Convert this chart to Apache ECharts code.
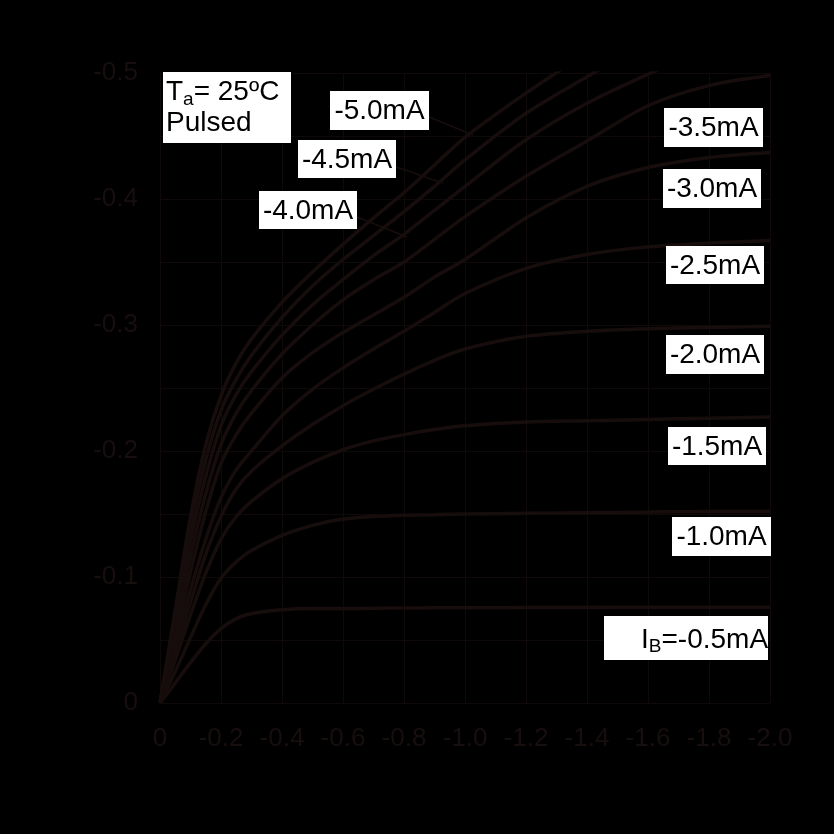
<!DOCTYPE html>
<html>
<head>
<meta charset="utf-8">
<script src="https://cdn.jsdelivr.net/npm/echarts@6/dist/echarts.min.js"></script>
<style>html,body{margin:0;padding:0;background:#000;}#c{width:834px;height:834px;}</style>
</head>
<body>
<div id="c"></div>
<script>
// Collector-emitter voltage (V)
const vce = [0, -0.05, -0.1, -0.15, -0.2, -0.25, -0.3, -0.4, -0.5, -0.6, -0.7, -0.8, -0.9, -1.0, -1.2, -1.4, -1.6, -1.8, -2.0];
// Collector current (A) for each base current
const ib05 = [0, -0.016, -0.032, -0.047, -0.059, -0.067, -0.071, -0.074, -0.075, -0.075, -0.0752, -0.0754, -0.0755, -0.0755, -0.0757, -0.0758, -0.076, -0.076, -0.076];
const ib10 = [0, -0.025, -0.052, -0.078, -0.099, -0.112, -0.121, -0.133, -0.141, -0.146, -0.148, -0.149, -0.1495, -0.150, -0.1505, -0.151, -0.1515, -0.152, -0.152];
const ib15 = [0, -0.034, -0.070, -0.103, -0.130, -0.148, -0.160, -0.178, -0.191, -0.201, -0.208, -0.213, -0.217, -0.220, -0.223, -0.224, -0.225, -0.226, -0.227];
const ib20 = [0, -0.040, -0.080, -0.118, -0.148, -0.170, -0.184, -0.204, -0.221, -0.236, -0.249, -0.261, -0.272, -0.281, -0.291, -0.295, -0.297, -0.298, -0.299];
const ib25 = [0, -0.045, -0.090, -0.130, -0.163, -0.185, -0.200, -0.228, -0.249, -0.266, -0.281, -0.295, -0.310, -0.325, -0.345, -0.356, -0.362, -0.365, -0.367];
const ib30 = [0, -0.052, -0.104, -0.152, -0.190, -0.213, -0.230, -0.258, -0.278, -0.294, -0.308, -0.322, -0.338, -0.352, -0.385, -0.410, -0.425, -0.433, -0.437];
const ib35 = [0, -0.058, -0.116, -0.166, -0.205, -0.230, -0.248, -0.277, -0.300, -0.320, -0.336, -0.350, -0.368, -0.386, -0.418, -0.446, -0.474, -0.490, -0.498];
const ib40 = [0, -0.064, -0.128, -0.180, -0.220, -0.245, -0.263, -0.292, -0.316, -0.336, -0.355, -0.372, -0.391, -0.410, -0.447, -0.476, -0.499, -0.520];
const ib45 = [0, -0.069, -0.138, -0.193, -0.232, -0.257, -0.276, -0.306, -0.331, -0.352, -0.371, -0.390, -0.410, -0.431, -0.468, -0.497, -0.525];
const ib50 = [0, -0.074, -0.148, -0.205, -0.244, -0.270, -0.289, -0.318, -0.342, -0.364, -0.385, -0.405, -0.427, -0.449, -0.484, -0.516];
const seriesNames = ['-0.5mA', '-1.0mA', '-1.5mA', '-2.0mA', '-2.5mA', '-3.0mA', '-3.5mA', '-4.0mA', '-4.5mA', '-5.0mA'];
const seriesVals = [ib05, ib10, ib15, ib20, ib25, ib30, ib35, ib40, ib45, ib50];
const xTicks = [0, -0.2, -0.4, -0.6, -0.8, -1.0, -1.2, -1.4, -1.6, -1.8, -2.0];
const yTicks = [0, -0.1, -0.2, -0.3, -0.4, -0.5];

const curveColor = '#170d0d';
const gridColor = '#100909';
const labelColor = '#170e0e';
const FONT = '"Liberation Sans", Arial, sans-serif';

const chart = echarts.init(document.getElementById('c'), null, {renderer: 'canvas'});

const series = seriesVals.map((vals, i) => ({
  name: seriesNames[i],
  type: 'line',
  showSymbol: false,
  smooth: 0.3,
  clip: true,
  lineStyle: {color: curveColor, width: 3.5},
  data: vals.map((v, k) => [vce[k], v]),
  silent: true
}));

// boxes: [x, y, w, h, text]
const boxes = [
  [330, 91, 99, 39, '-5.0mA'],
  [298, 140, 98, 38, '-4.5mA'],
  [259, 191, 98, 38, '-4.0mA'],
  [664, 108, 99, 39, '-3.5mA'],
  [663, 169, 98, 39, '-3.0mA'],
  [666, 246, 98, 38, '-2.5mA'],
  [666, 335, 98, 39, '-2.0mA'],
  [668, 427, 98, 38, '-1.5mA'],
  [672, 517, 99, 39, '-1.0mA']
];
const graphics = [];
// leader lines
const leaders = [[429, 117, 473, 135], [396, 167, 443, 183], [357, 217, 407, 237]];
leaders.forEach(l => graphics.push({type: 'line', shape: {x1: l[0], y1: l[1], x2: l[2], y2: l[3]}, style: {stroke: curveColor, lineWidth: 1.5}, z: 5}));
boxes.forEach(b => {
  graphics.push({type: 'rect', shape: {x: b[0], y: b[1], width: b[2], height: b[3]}, style: {fill: '#fff'}, z: 10});
  graphics.push({type: 'text', x: b[0] + b[2] / 2, y: b[1] + b[3] / 2 + 1, style: {text: b[4], fill: '#000', font: '28px ' + FONT, textAlign: 'center', textVerticalAlign: 'middle'}, z: 11});
});
// IB box
graphics.push({type: 'rect', shape: {x: 604, y: 616, width: 164, height: 44}, style: {fill: '#fff'}, z: 10});
graphics.push({type: 'text', x: 641, y: 626, style: {
  text: '{a|I}{b|B}{a|=-0.5mA}', fill: '#000',
  rich: {a: {fontSize: 28, fontFamily: FONT, color: '#000', lineHeight: 30, verticalAlign: 'top'},
         b: {fontSize: 19, fontFamily: FONT, color: '#000', lineHeight: 30, verticalAlign: 'bottom', padding: [12, 0, 0, 0]}}
}, z: 11});
// Ta box
graphics.push({type: 'rect', shape: {x: 163, y: 72, width: 128, height: 71}, style: {fill: '#fff'}, z: 10});
graphics.push({type: 'text', x: 166, y: 78, style: {
  text: '{a|T}{b|a}{a|= 25ºC}\n{a|Pulsed}', fill: '#000',
  rich: {a: {fontSize: 28, fontFamily: FONT, color: '#000', lineHeight: 31, verticalAlign: 'top'},
         b: {fontSize: 19, fontFamily: FONT, color: '#000', lineHeight: 31, verticalAlign: 'bottom', padding: [12, 0, 0, 0]}}
}, z: 11});

chart.setOption({
  backgroundColor: '#000',
  animation: false,
  grid: {left: 160, right: 64, top: 73, bottom: 131, containLabel: false},
  xAxis: {
    type: 'value', min: -2, max: 0, interval: 0.2, inverse: true,
    axisLine: {show: true, lineStyle: {color: gridColor, width: 1}},
    axisTick: {show: false},
    splitLine: {show: true, lineStyle: {color: gridColor, width: 1}},
    axisLabel: {color: labelColor, fontSize: 26, fontFamily: FONT, margin: 23,
      formatter: v => { const t = xTicks.find(x => Math.abs(x - v) < 1e-6); return t === undefined ? '' : (t === 0 ? '0' : t.toFixed(1)); }}
  },
  yAxis: {
    type: 'value', min: -0.5, max: 0, interval: 0.1, inverse: true,
    axisLine: {show: true, lineStyle: {color: gridColor, width: 1}},
    axisTick: {show: false},
    splitLine: {show: true, lineStyle: {color: gridColor, width: 1}},
    minorTick: {show: false, splitNumber: 2},
    minorSplitLine: {show: true, lineStyle: {color: gridColor, width: 1}},
    axisLabel: {color: labelColor, fontSize: 26, fontFamily: FONT, margin: 22,
      formatter: v => { const t = yTicks.find(y => Math.abs(y - v) < 1e-6); return t === undefined ? '' : (t === 0 ? '0' : t.toFixed(1)); }}
  },
  series: series,
  graphic: graphics
});
</script>
</body>
</html>
